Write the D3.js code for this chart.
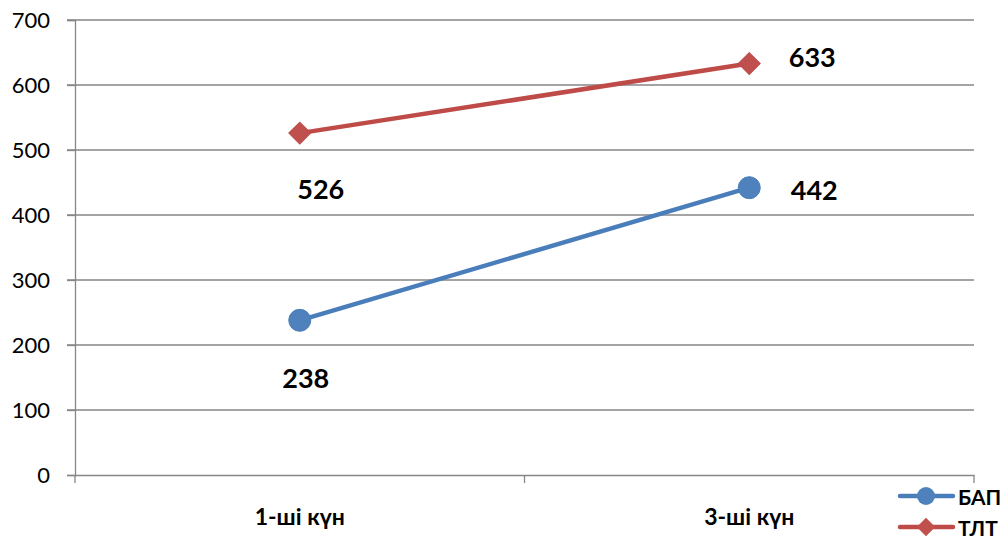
<!DOCTYPE html>
<html><head><meta charset="utf-8">
<script src="https://cdn.jsdelivr.net/npm/d3@7"></script>
<style>body{margin:0;background:#fff}svg{display:block}</style>
</head><body>
<script>
const categories = ["1-ші күн", "3-ші күн"];
const seriesNames = ["БАП", "ТЛТ"];
const bapValues = [238, 442];
const tltValues = [526, 633];
const yTicks = [0, 100, 200, 300, 400, 500, 600, 700];

const W = 1006, H = 538;
const m = {left: 75, right: 32, top: 20, bottom: 63};
const svg = d3.select("body").append("svg").attr("width", W).attr("height", H);

const x = d3.scaleBand().domain(categories).range([m.left, W - m.right]);
const y = d3.scaleLinear().domain([0, 700]).range([H - m.bottom, m.top]);
const gridCol = "#868686";
const font = "Lato, 'Open Sans', sans-serif";

// gridlines
svg.append("g").selectAll("line").data(yTicks.filter(d => d > 0)).join("line")
  .attr("x1", m.left - 8).attr("x2", W - m.right)
  .attr("y1", d => y(d)).attr("y2", d => y(d))
  .attr("stroke", gridCol).attr("stroke-width", 1.3);

// y axis
const ya = svg.append("g").attr("transform", `translate(${m.left},0)`)
  .call(d3.axisLeft(y).tickValues(yTicks).tickSize(8).tickPadding(17));
ya.select(".domain").attr("stroke", gridCol).attr("stroke-width", 1.3);
ya.selectAll(".tick line").attr("stroke", gridCol).attr("stroke-width", 1.3);
ya.selectAll(".tick text").attr("font-family", font).attr("font-size", 22).attr("fill", "#000");

// x axis
const xa = svg.append("g").attr("transform", `translate(0,${y(0)})`)
  .call(d3.axisBottom(x).tickSize(0).tickPadding(0));
xa.select(".domain").attr("stroke", gridCol).attr("stroke-width", 1.3);
xa.selectAll(".tick text").remove();
const bounds = [x(categories[0]), x(categories[1]), x(categories[1]) + x.bandwidth()];
xa.selectAll(".bt").data(bounds).join("line").attr("class", "bt")
  .attr("x1", d => d).attr("x2", d => d).attr("y1", 0).attr("y2", 8)
  .attr("stroke", gridCol).attr("stroke-width", 1.3);
xa.selectAll(".cl").data(categories).join("text").attr("class", "cl")
  .attr("x", d => x(d) + x.bandwidth() / 2).attr("y", 50)
  .attr("text-anchor", "middle")
  .attr("font-family", font).attr("font-weight", "bold")
  .attr("font-size", 23).attr("fill", "#000").text(d => d);

const cx = d => x(d) + x.bandwidth() / 2;
const blue = "#4A7EBB", red = "#BE4B48";
const line = d3.line().x(d => cx(d.c)).y(d => y(d.v));
const bap = categories.map((c, i) => ({c, v: bapValues[i]}));
const tlt = categories.map((c, i) => ({c, v: tltValues[i]}));

svg.append("path").datum(tlt).attr("d", line).attr("fill", "none").attr("stroke", red).attr("stroke-width", 4.5).attr("stroke-linecap", "round");
svg.append("path").datum(bap).attr("d", line).attr("fill", "none").attr("stroke", blue).attr("stroke-width", 4.5).attr("stroke-linecap", "round");

const diamond = d3.symbol().type(d3.symbolSquare).size(240);
svg.selectAll(".dm").data(tlt).join("path").attr("class", "dm")
  .attr("d", diamond).attr("transform", d => `translate(${cx(d.c)},${y(d.v)}) rotate(45)`)
  .attr("fill", "#C0504D").attr("stroke", red).attr("stroke-width", 1);
svg.selectAll(".ci").data(bap).join("circle").attr("class", "ci")
  .attr("cx", d => cx(d.c)).attr("cy", d => y(d.v)).attr("r", 11)
  .attr("fill", "#4F81BD").attr("stroke", blue).attr("stroke-width", 1);

// data labels (offsets relative to point)
const lblOff = {"БАП": [[6, 57], [65, 2]], "ТЛТ": [[21, 55], [63, -7]]};
[[bap, "БАП"], [tlt, "ТЛТ"]].forEach(([data, name]) => {
  svg.selectAll(".lb" + name).data(data).join("text")
    .attr("x", (d, i) => cx(d.c) + lblOff[name][i][0])
    .attr("y", (d, i) => y(d.v) + lblOff[name][i][1])
    .attr("text-anchor", "middle").attr("dominant-baseline", "central")
    .attr("font-family", font).attr("font-weight", "bold").attr("font-size", 27)
    .attr("fill", "#000").text(d => d.v);
});

// legend
const lg = svg.append("g");
const legendItems = [{n: seriesNames[0], c: blue, f: "#4F81BD", t: "c"}, {n: seriesNames[1], c: red, f: "#C0504D", t: "d"}];
legendItems.forEach((it, i) => {
  const ly = 496 + i * 31;
  lg.append("line").attr("x1", 900).attr("x2", 953).attr("y1", ly).attr("y2", ly)
    .attr("stroke", it.c).attr("stroke-width", 4.5).attr("stroke-linecap", "round");
  if (it.t === "c") lg.append("circle").attr("cx", 926).attr("cy", ly).attr("r", 9).attr("fill", it.f);
  else lg.append("path").attr("d", d3.symbol().type(d3.symbolSquare).size(170)).attr("transform", `translate(926,${ly}) rotate(45)`).attr("fill", it.f);
  lg.append("text").attr("x", 958).attr("y", ly).attr("dominant-baseline", "central")
    .attr("font-family", font).attr("font-weight", "bold").attr("font-size", 21)
    .attr("fill", "#000").text(it.n);
});
</script>
</body></html>
